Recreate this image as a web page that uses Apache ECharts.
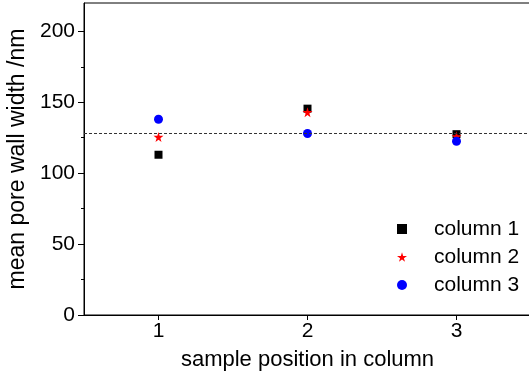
<!DOCTYPE html>
<html><head><meta charset="utf-8">
<script src="https://cdn.jsdelivr.net/npm/echarts@6/dist/echarts.min.js"></script>
<style>html,body{margin:0;padding:0;background:#fff}#c{width:529px;height:378px}</style>
</head><body><div id="c"></div>
<script>
const positions = [1, 2, 3];
const column1 = [113, 145.5, 127.5];
const column2 = [125.5, 143, 126];
const column3 = [138, 128, 122.5];
const meanLine = 128.5;
const xTicks = [1, 2, 3];
const yTicks = [0, 50, 100, 150, 200];
const yMinorTicks = [25, 75, 125, 175];

const font = 'Liberation Sans, Arial, sans-serif';
const chart = echarts.init(document.getElementById('c'));
function pts(vals){ return positions.map((p,i)=>[p, vals[i]]); }
chart.setOption({
  animation: false,
  grid: {left: 84, top: 3, width: 447, bottom: 63, show: true, borderColor: '#000', borderWidth: 1, outerBoundsMode: 'none', containLabel: false},
  legend: {
    orient: 'vertical', left: 392, top: 212, itemWidth: 10, itemHeight: 10, itemGap: 4,
    textStyle: {fontFamily: font, fontSize: 21, color: '#000', lineHeight: 24, padding: [0, 0, 0, 22]},
    data: ['column 1', 'column 2', 'column 3']
  },
  xAxis: {
    type: 'value', min: 0.5, max: 3.5,
    name: 'sample position in column', nameLocation: 'middle', nameGap: 34,
    nameTextStyle: {fontFamily: font, fontSize: 22, color: '#000'},
    axisLine: {lineStyle: {color: '#000', width: 1}},
    axisTick: {show: true, customValues: xTicks, length: 5, inside: false, lineStyle: {color: '#000'}},
    axisLabel: {customValues: xTicks, fontFamily: font, fontSize: 21, color: '#000', margin: 6},
    splitLine: {show: false}
  },
  yAxis: [{
    type: 'value', min: 0, max: 220,
    name: 'mean pore wall width /nm', nameLocation: 'middle', nameGap: 45,
    nameTextStyle: {fontFamily: font, fontSize: 23, color: '#000'},
    axisLine: {show: true, lineStyle: {color: '#000', width: 1}},
    axisTick: {show: true, customValues: yTicks, length: 6, lineStyle: {color: '#000'}},
    axisLabel: {customValues: yTicks, fontFamily: font, fontSize: 21, color: '#000', margin: 9},
    splitLine: {show: false}
  }, {
    type: 'value', min: 0, max: 220, position: 'left',
    axisLine: {show: false},
    axisTick: {show: true, customValues: yMinorTicks, length: 3, lineStyle: {color: '#000'}},
    axisLabel: {show: false},
    splitLine: {show: false}
  }],
  series: [
    {name: 'column 1', type: 'scatter', symbol: 'rect', symbolSize: 8, itemStyle: {color: '#000', opacity: 1}, data: pts(column1),
     markLine: {silent: true, symbol: 'none', label: {show: false},
       lineStyle: {color: '#333', type: [3, 2], width: 1, opacity: 1}, data: [{yAxis: meanLine}]}},
    {name: 'column 2', type: 'scatter', symbol: 'path://M50,0 L61,35 L98,35 L68,57 L79,91 L50,70 L21,91 L32,57 L2,35 L39,35 Z', symbolSize: 10, itemStyle: {color: '#ff0000', opacity: 1}, data: pts(column2)},
    {name: 'column 3', type: 'scatter', symbol: 'circle', symbolSize: 9, itemStyle: {color: '#0000ff', opacity: 1}, data: pts(column3)}
  ]
});
</script></body></html>
